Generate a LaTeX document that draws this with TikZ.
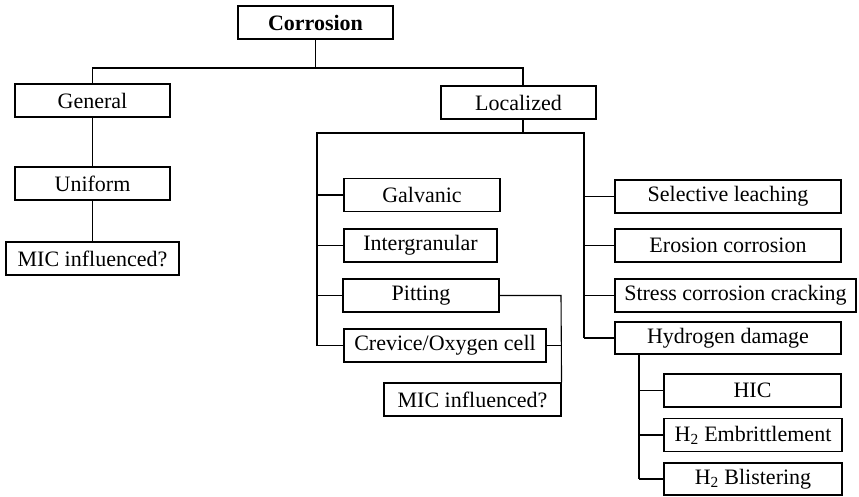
\documentclass[tikz,border=0pt]{standalone}
\usepackage{fontspec}
\setmainfont{Liberation Serif}
\begin{document}
\begin{tikzpicture}[x=1pt,y=-1pt,
  box/.style={draw, line width=1.1pt, minimum height=33pt, inner sep=0pt, font=\fontsize{22}{26}\selectfont},
  conn/.style={line width=1.1pt}]
\useasboundingbox (0,0) rectangle (859,496);
\node[box, minimum width=155pt, font=\fontsize{22}{26}\selectfont\bfseries] (corr) at (315.5,22.5) {Corrosion};
\node[box, minimum width=155pt] (gen) at (92.5,100.5) {General};
\node[box, minimum width=155pt] (uni) at (92.5,183.5) {Uniform};
\node[box, minimum width=173pt] (mic1) at (92.5,258.5) {MIC influenced?};
\node[box, minimum width=155pt] (loc) at (518.5,102.5) {Localized};
\node[box, minimum width=156pt] (galv) at (422,195) {Galvanic};
\node[box, minimum width=153pt] (inter) at (420.5,245.5) {Intergranular};
\node[box, minimum width=156pt] (pit) at (421,295.5) {Pitting};
\node[box, minimum width=202pt] (crev) at (445,345.5) {Crevice/Oxygen cell};
\node[box, minimum width=177pt] (mic2) at (472.5,399.5) {MIC influenced?};
\node[box, minimum width=226pt] (sel) at (728,196.5) {Selective leaching};
\node[box, minimum width=226pt] (ero) at (728,245.5) {Erosion corrosion};
\node[box, minimum width=241pt] (scc) at (735.5,295.5) {Stress corrosion cracking};
\node[box, minimum width=226pt, minimum height=32pt] (hyd) at (728,338) {Hydrogen damage};
\node[box, minimum width=177pt] (hic) at (752.5,390.5) {HIC};
\node[box, minimum width=178pt] (h2e) at (753,435) {H\textsubscript{2} Embrittlement};
\node[box, minimum width=178pt, minimum height=32pt] (h2b) at (753,479) {H\textsubscript{2} Blistering};
% top level
\coordinate (top) at (corr.south |- 0,68);
\coordinate (locstem) at (523,68);
\draw[conn] (corr.south) -- (top);
\draw[conn] (gen.north) |- (locstem) -- (locstem |- loc.north);
% general branch
\draw[conn] (gen.south) -- (uni.north);
\draw[conn] (uni.south) -- (mic1.north);
% localized
\coordinate (lb) at (523,133);
\coordinate (ll) at (317,133);
\coordinate (lr) at (584,133);
\draw[conn] (lb |- loc.south) -- (lb);
\draw[conn] (crev.west -| ll) -- (ll) -- (lr) -- (lr |- hyd.west);
\foreach \n in {galv,inter,pit,crev} \draw[conn] (\n.west -| ll) -- (\n.west);
\foreach \n in {sel,ero,scc,hyd} \draw[conn] (\n.west -| lr) -- (\n.west);
% pitting / crevice to MIC
\coordinate (pr) at (561,295.5);
\draw[conn] (pit.east) -- (pr) -- (mic2.north east);
\draw[conn] (crev.east) -- (crev.east -| pr);
% hydrogen
\coordinate (hx) at (639,354);
\draw[conn] (hx |- hyd.south) -- (hx |- h2b.west);
\foreach \n in {hic,h2e,h2b} \draw[conn] (\n.west -| hx) -- (\n.west);
\end{tikzpicture}
\end{document}
